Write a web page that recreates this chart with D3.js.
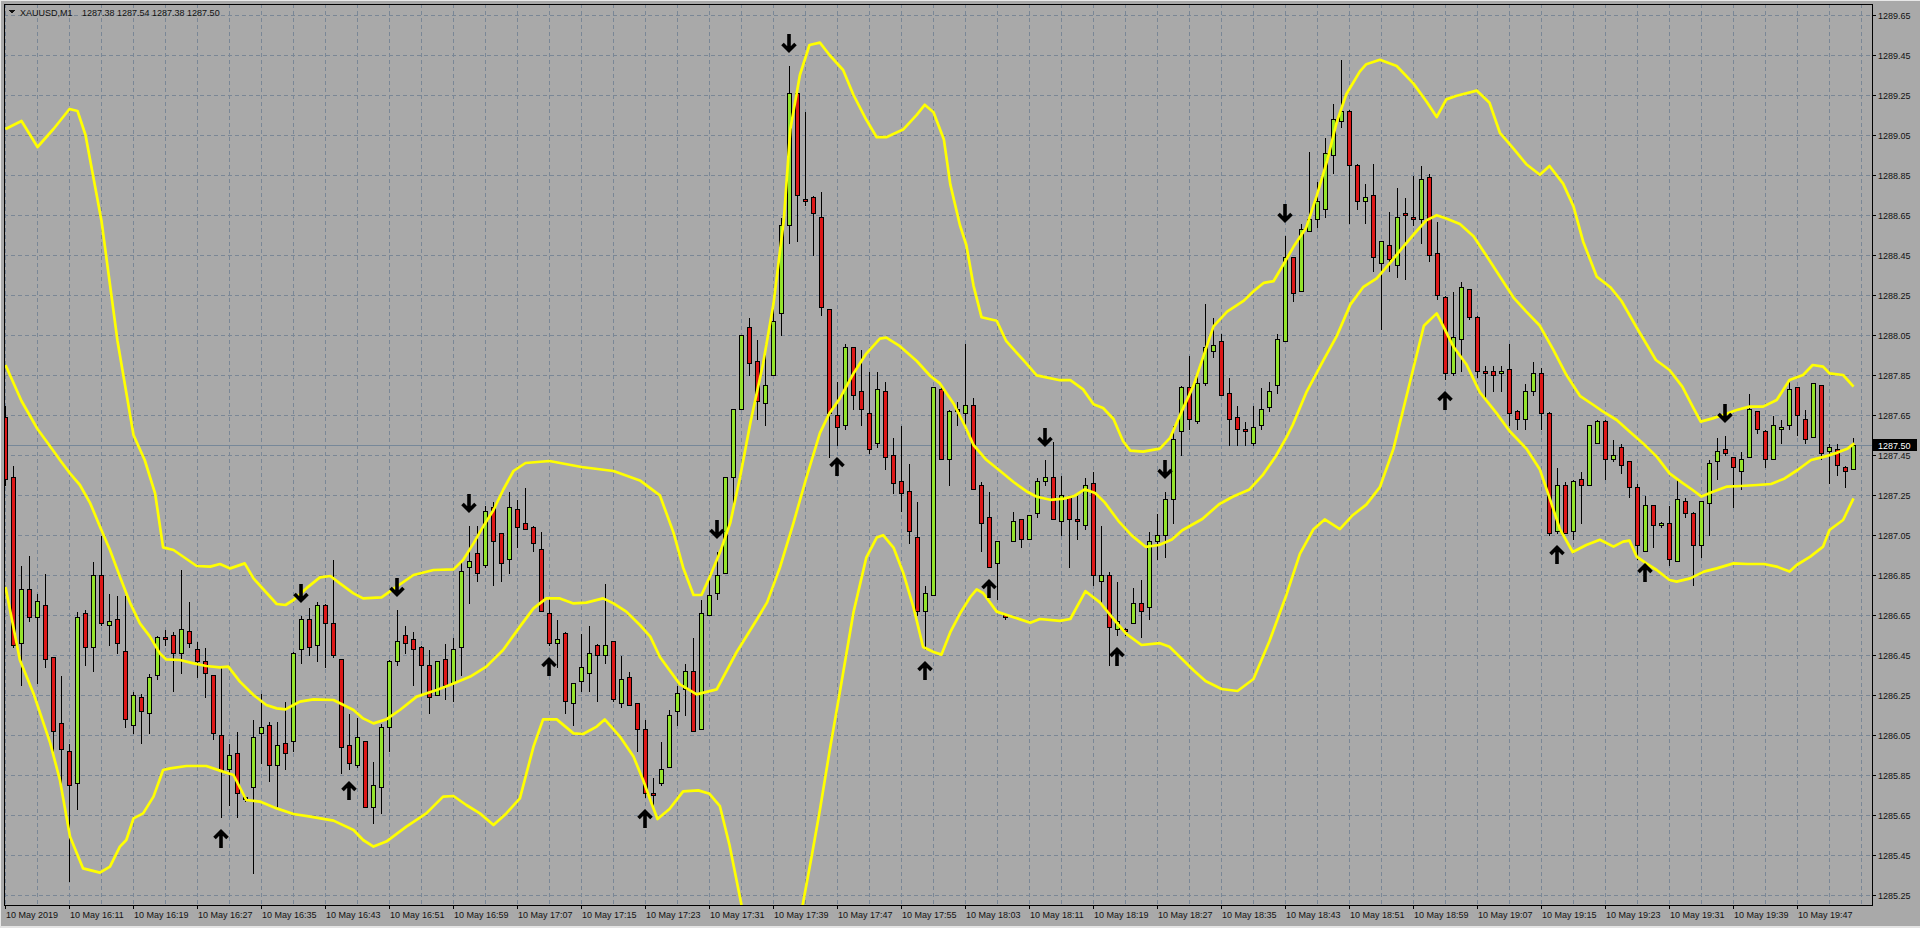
<!DOCTYPE html>
<html><head><meta charset="utf-8">
<script src="https://cdn.jsdelivr.net/npm/d3@7"></script>
<style>html,body{margin:0;padding:0;background:#a9a9a9;overflow:hidden}svg{display:block}</style>
</head><body>
<script>
// ---------------- data ----------------
const symbolTitle = "XAUUSD,M1";
const titleOHLC = "1287.38 1287.54 1287.38 1287.50";
const bidPrice = 1287.50;

const opens = [
1287.64,1287.34,1286.51,1286.78,1286.64,1286.70,1286.44,1286.11,1285.97,1285.81,
1286.66,1286.49,1286.85,1286.60,1286.63,1286.47,1286.10,1286.24,1286.16,1286.35,
1286.54,1286.55,1286.46,1286.57,1286.48,1286.42,1286.35,1286.05,1285.88,1285.96,
1285.74,1285.79,1286.06,1286.10,1285.90,1286.01,1286.02,1286.48,1286.63,1286.50,
1286.70,1286.61,1286.43,1286.00,1285.90,1286.02,1285.69,1285.79,1286.09,1286.42,
1286.55,1286.53,1286.49,1286.40,1286.25,1286.43,1286.31,1286.49,1286.89,1286.96,
1286.90,1287.19,1287.06,1286.93,1287.18,1287.11,1287.09,1286.98,1286.66,1286.51,
1286.56,1286.21,1286.32,1286.36,1286.50,1286.45,1286.52,1286.21,1286.34,1286.21,
1286.08,1285.76,1285.81,1285.89,1286.17,1286.28,1286.37,1286.08,1286.65,1286.76,
1286.86,1287.34,1287.68,1288.09,1287.92,1287.71,1287.85,1288.16,1288.60,1289.26,
1288.73,1288.74,1288.64,1288.18,1287.65,1287.60,1287.99,1287.77,1287.66,1287.51,
1287.77,1287.45,1287.32,1287.27,1287.04,1286.67,1286.75,1287.78,1287.43,1287.68,
1287.66,1287.70,1287.30,1287.14,1286.91,1286.65,1287.02,1287.13,1287.03,1287.16,
1287.32,1287.34,1287.12,1287.24,1287.13,1287.10,1287.31,1286.82,1286.85,1286.58,
1286.58,1286.61,1286.71,1286.69,1287.02,1287.05,1287.23,1287.57,1287.79,1287.62,
1287.81,1287.97,1288.02,1287.76,1287.64,1287.58,1287.51,1287.60,1287.69,1287.80,
1288.02,1288.44,1288.27,1288.57,1288.63,1288.68,1288.95,1289.12,1289.17,1288.90,
1288.72,1288.75,1288.41,1288.50,1288.40,1288.66,1288.64,1288.63,1288.84,1288.46,
1288.24,1287.86,1288.03,1288.28,1288.14,1287.87,1287.87,1287.86,1287.88,1287.67,
1287.63,1287.77,1287.86,1287.66,1287.07,1287.30,1287.07,1287.33,1287.30,1287.51,
1287.62,1287.43,1287.49,1287.42,1287.29,1286.97,1287.20,1287.10,1287.11,1286.92,
1287.22,1287.16,1287.00,1287.21,1287.42,1287.48,1287.44,1287.37,1287.44,1287.67,
1287.57,1287.43,1287.58,1287.60,1287.79,1287.63,1287.54,1287.80,1287.47,1287.48,
1287.39,1287.38];

const highs = [
1287.70,1287.40,1286.90,1286.95,1286.76,1286.86,1286.44,1286.35,1286.01,1286.67,
1286.68,1286.92,1287.05,1286.76,1286.75,1286.75,1286.27,1286.26,1286.36,1286.55,
1286.58,1286.57,1286.88,1286.72,1286.52,1286.49,1286.35,1286.39,1286.01,1286.07,
1285.75,1286.13,1286.26,1286.12,1286.12,1286.22,1286.47,1286.65,1286.69,1286.72,
1286.71,1286.93,1286.43,1286.16,1286.14,1286.02,1285.92,1286.11,1286.43,1286.68,
1286.60,1286.57,1286.50,1286.48,1286.42,1286.51,1286.54,1286.92,1287.10,1287.10,
1287.20,1287.22,1287.06,1287.27,1287.23,1287.29,1287.10,1287.07,1286.74,1286.63,
1286.57,1286.31,1286.56,1286.60,1286.51,1286.81,1286.52,1286.45,1286.37,1286.21,
1286.13,1285.84,1286.02,1286.18,1286.30,1286.41,1286.54,1286.73,1286.86,1286.97,
1287.34,1287.68,1288.05,1288.14,1288.03,1288.01,1288.21,1288.64,1289.40,1289.28,
1289.17,1288.75,1288.77,1288.18,1287.82,1288.01,1287.99,1287.98,1287.87,1287.87,
1287.82,1287.54,1287.60,1287.41,1287.22,1286.80,1287.79,1287.80,1287.68,1287.72,
1288.01,1287.74,1287.32,1287.27,1287.02,1286.66,1287.17,1287.13,1287.15,1287.34,
1287.43,1287.52,1287.35,1287.25,1287.25,1287.34,1287.37,1287.10,1286.87,1286.82,
1286.59,1286.79,1286.83,1287.07,1287.16,1287.27,1287.60,1287.80,1287.95,1287.87,
1288.21,1288.14,1288.06,1287.84,1287.70,1287.62,1287.70,1287.79,1287.82,1288.06,
1288.55,1288.44,1288.61,1288.97,1288.82,1289.04,1289.21,1289.43,1289.18,1288.91,
1288.81,1288.91,1288.52,1288.67,1288.79,1288.74,1288.85,1288.90,1288.86,1288.62,
1288.25,1288.27,1288.32,1288.28,1288.15,1287.90,1287.90,1287.90,1288.01,1287.68,
1287.81,1287.92,1287.89,1287.67,1287.39,1287.32,1287.33,1287.37,1287.60,1287.63,
1287.63,1287.53,1287.51,1287.42,1287.31,1287.25,1287.20,1287.12,1287.20,1287.33,
1287.24,1287.17,1287.22,1287.43,1287.54,1287.55,1287.44,1287.47,1287.76,1287.67,
1287.58,1287.65,1287.63,1287.83,1287.79,1287.68,1287.81,1287.80,1287.51,1287.51,
1287.40,1287.54];

const lows = [
1287.30,1286.49,1286.30,1286.62,1286.31,1286.39,1285.94,1285.78,1285.32,1285.68,
1286.40,1286.37,1286.60,1286.50,1286.46,1286.09,1286.06,1286.01,1286.06,1286.33,
1286.50,1286.27,1286.36,1286.49,1286.34,1286.24,1286.03,1285.64,1285.70,1285.64,
1285.72,1285.36,1285.91,1285.82,1285.69,1285.88,1285.97,1286.41,1286.45,1286.42,
1286.39,1286.44,1285.86,1285.88,1285.89,1285.69,1285.61,1285.66,1285.97,1286.40,
1286.46,1286.30,1286.26,1286.16,1286.25,1286.23,1286.22,1286.35,1286.71,1286.82,
1286.89,1286.80,1286.82,1286.86,1286.99,1287.08,1286.97,1286.67,1286.50,1286.39,
1286.16,1286.10,1286.27,1286.27,1286.22,1286.41,1286.22,1286.19,1286.20,1285.97,
1285.74,1285.70,1285.80,1285.89,1286.10,1286.15,1286.07,1286.08,1286.65,1286.73,
1286.86,1287.17,1287.68,1287.85,1287.63,1287.60,1287.85,1288.05,1288.51,1288.52,
1288.70,1288.45,1288.15,1287.44,1287.50,1287.58,1287.68,1287.60,1287.46,1287.49,
1287.38,1287.26,1287.17,1287.01,1286.65,1286.48,1286.75,1287.43,1287.30,1287.60,
1287.58,1287.28,1286.97,1286.89,1286.73,1286.63,1287.02,1286.99,1287.03,1287.14,
1287.30,1287.13,1287.05,1286.89,1287.03,1287.08,1286.80,1286.71,1286.40,1286.55,
1286.55,1286.61,1286.54,1286.63,1286.93,1286.94,1287.11,1287.45,1287.58,1287.61,
1287.80,1287.94,1287.75,1287.50,1287.50,1287.50,1287.50,1287.58,1287.67,1287.76,
1288.02,1288.22,1288.27,1288.57,1288.59,1288.64,1288.86,1289.09,1288.61,1288.68,
1288.61,1288.37,1288.08,1288.37,1288.34,1288.33,1288.60,1288.51,1288.42,1288.23,
1287.83,1287.85,1287.87,1288.13,1287.84,1287.74,1287.77,1287.77,1287.60,1287.58,
1287.58,1287.75,1287.58,1287.05,1287.06,1287.06,1287.03,1287.11,1287.30,1287.51,
1287.33,1287.42,1287.36,1287.24,1286.93,1286.97,1286.99,1287.09,1286.90,1286.92,
1287.14,1286.80,1286.94,1287.05,1287.33,1287.45,1287.19,1287.28,1287.44,1287.56,
1287.39,1287.43,1287.51,1287.58,1287.55,1287.51,1287.54,1287.43,1287.31,1287.35,
1287.29,1287.38];

const closes = [
1287.33,1286.50,1286.78,1286.64,1286.72,1286.43,1286.07,1285.98,1285.80,1286.64,
1286.49,1286.85,1286.61,1286.62,1286.51,1286.13,1286.25,1286.17,1286.34,1286.54,
1286.53,1286.46,1286.58,1286.51,1286.42,1286.36,1286.06,1285.87,1285.95,1285.76,
1285.73,1286.04,1286.09,1285.90,1286.00,1285.96,1286.46,1286.63,1286.49,1286.70,
1286.61,1286.45,1285.99,1285.91,1286.04,1285.69,1285.80,1286.09,1286.42,1286.52,
1286.51,1286.48,1286.40,1286.24,1286.42,1286.30,1286.48,1286.87,1286.92,1286.86,
1287.17,1287.02,1286.91,1287.19,1287.09,1287.08,1287.01,1286.67,1286.51,1286.53,
1286.22,1286.31,1286.39,1286.46,1286.45,1286.50,1286.23,1286.33,1286.20,1286.08,
1285.76,1285.75,1285.88,1286.15,1286.26,1286.37,1286.07,1286.66,1286.75,1286.85,
1287.34,1287.68,1288.05,1287.91,1287.72,1287.80,1288.12,1288.60,1289.26,1288.75,
1288.72,1288.66,1288.19,1287.66,1287.59,1287.99,1287.75,1287.68,1287.48,1287.78,
1287.44,1287.31,1287.26,1287.07,1286.67,1286.76,1287.79,1287.43,1287.67,1287.67,
1287.70,1287.28,1287.11,1286.89,1287.02,1286.64,1287.12,1287.03,1287.15,1287.32,
1287.34,1287.13,1287.25,1287.13,1287.12,1287.30,1286.85,1286.85,1286.59,1286.62,
1286.57,1286.71,1286.67,1287.02,1287.05,1287.23,1287.53,1287.79,1287.63,1287.81,
1287.99,1288.00,1287.75,1287.63,1287.58,1287.57,1287.59,1287.68,1287.77,1288.03,
1288.44,1288.26,1288.58,1288.63,1288.72,1288.96,1289.13,1289.17,1288.90,1288.72,
1288.74,1288.44,1288.52,1288.43,1288.64,1288.65,1288.63,1288.83,1288.45,1288.25,
1287.86,1288.04,1288.29,1288.14,1287.87,1287.86,1287.85,1287.87,1287.66,1287.63,
1287.77,1287.86,1287.66,1287.06,1287.30,1287.06,1287.32,1287.30,1287.60,1287.62,
1287.43,1287.45,1287.40,1287.29,1287.00,1287.20,1287.10,1287.11,1286.93,1287.23,
1287.16,1287.00,1287.22,1287.41,1287.47,1287.46,1287.39,1287.43,1287.68,1287.58,
1287.43,1287.60,1287.59,1287.78,1287.65,1287.53,1287.81,1287.46,1287.49,1287.40,
1287.37,1287.50];

// Bollinger band readings: [bar index, price]
const upperBand = [[0,1289.08],[2,1289.12],[4,1288.99],[6,1289.08],[8,1289.18],[9,1289.17],[10,1289.05],[12,1288.62],[14,1288.02],[16,1287.55],[17.4,1287.425],[18.7,1287.258],[19.7,1286.988],[21,1286.975],[23.9,1286.895],[25.6,1286.892],[26.8,1286.905],[28.1,1286.883],[29.9,1286.908],[31,1286.833],[33.9,1286.705],[35,1286.70],[36,1286.725],[37.6,1286.783],[39.3,1286.838],[40.6,1286.845],[41.8,1286.808],[43.5,1286.758],[44.7,1286.733],[47,1286.738],[48.9,1286.792],[51,1286.85],[53.5,1286.875],[56,1286.878],[57.2,1286.925],[58.5,1287.008],[59.7,1287.092],[61,1287.175],[62.2,1287.275],[63.5,1287.37],[65,1287.41],[68,1287.42],[72,1287.39],[76,1287.37],[79.3,1287.323],[81.8,1287.248],[83.5,1287.062],[84.7,1286.888],[86,1286.75],[87,1286.75],[88,1286.838],[89.3,1286.962],[90.6,1287.111],[91.8,1287.335],[93.1,1287.609],[94.7,1287.907],[96,1288.206],[97.3,1288.629],[98.1,1289.077],[99.3,1289.35],[100.5,1289.5],[101.8,1289.512],[103,1289.45],[104.7,1289.375],[106,1289.25],[107.6,1289.126],[108.9,1289.039],[110.1,1289.039],[112.2,1289.077],[113.9,1289.151],[114.9,1289.201],[116,1289.164],[117.3,1289.027],[118.1,1288.803],[119.3,1288.6],[120.1,1288.5],[121,1288.297],[122,1288.139],[123.9,1288.121],[125.1,1288.019],[127.6,1287.908],[128.9,1287.848],[131.8,1287.824],[133.1,1287.824],[134.7,1287.778],[136,1287.704],[137.2,1287.685],[138.5,1287.63],[139.7,1287.519],[140.6,1287.472],[142.2,1287.467],[144.3,1287.482],[145.6,1287.537],[146.8,1287.648],[148.5,1287.797],[151,1288.093],[152.7,1288.167],[154.8,1288.222],[156,1288.269],[157.3,1288.311],[158.5,1288.319],[159.7,1288.4],[161,1288.491],[162.6,1288.588],[163.9,1288.746],[165.2,1288.921],[166.4,1289.114],[167.6,1289.254],[169.3,1289.368],[170.1,1289.404],[171.8,1289.426],[173.9,1289.395],[176,1289.307],[177.6,1289.219],[178.9,1289.14],[180.1,1289.228],[181.4,1289.246],[183.9,1289.272],[185.5,1289.211],[186.8,1289.061],[188.5,1288.982],[190.1,1288.904],[191.8,1288.851],[193,1288.895],[194.7,1288.807],[196,1288.693],[197.2,1288.518],[198.9,1288.342],[200.6,1288.289],[202,1288.22],[204,1288.08],[206.3,1287.925],[208,1287.875],[209.6,1287.792],[210.9,1287.692],[211.9,1287.617],[213.4,1287.633],[214.7,1287.65],[216.4,1287.675],[218,1287.692],[219.7,1287.692],[221.4,1287.725],[223,1287.825],[224.7,1287.85],[225.9,1287.9],[227.2,1287.892],[228,1287.858],[229.7,1287.85],[231,1287.792]];

const middleBand = [[0,1287.90],[2,1287.72],[4,1287.58],[6,1287.47],[6.8,1287.425],[8.06,1287.358],[9.3,1287.3],[10.6,1287.208],[11.8,1287.092],[13.06,1286.975],[14.3,1286.842],[15.6,1286.708],[16.8,1286.608],[18.06,1286.542],[19.3,1286.458],[20.1,1286.428],[21.8,1286.425],[23.5,1286.408],[25.1,1286.395],[26.8,1286.388],[27.85,1286.392],[29.3,1286.317],[31,1286.25],[32.6,1286.2],[33.9,1286.183],[35,1286.178],[36,1286.2],[36.8,1286.217],[38.5,1286.228],[41,1286.225],[43.5,1286.175],[44.7,1286.133],[46,1286.108],[47.6,1286.128],[49.3,1286.175],[51.4,1286.242],[53.9,1286.275],[56,1286.308],[58.1,1286.342],[60.1,1286.392],[62.2,1286.475],[64.3,1286.592],[66,1286.683],[67.6,1286.733],[69.3,1286.733],[71,1286.708],[72.6,1286.712],[74.7,1286.733],[76,1286.708],[77.6,1286.667],[79.3,1286.6],[80.6,1286.542],[81.8,1286.44],[84.3,1286.303],[86.4,1286.253],[88.9,1286.278],[91.4,1286.465],[93.9,1286.626],[95.2,1286.713],[96.8,1286.887],[98.5,1287.111],[100.1,1287.335],[101.8,1287.559],[103,1287.659],[104.3,1287.733],[106,1287.858],[107.6,1287.957],[109.3,1288.032],[110.1,1288.037],[111.8,1287.994],[113.9,1287.92],[115.6,1287.845],[116.8,1287.808],[118.5,1287.708],[120,1287.59],[121,1287.5],[122.6,1287.426],[124.3,1287.371],[126,1287.315],[127.6,1287.269],[128.9,1287.241],[130.6,1287.226],[132.3,1287.232],[133.6,1287.245],[134.9,1287.278],[136.2,1287.26],[137.4,1287.213],[139.1,1287.121],[140.8,1287.047],[142.5,1286.991],[144.2,1287.0],[145.8,1287.028],[147.1,1287.074],[149.6,1287.13],[151.7,1287.204],[153.4,1287.241],[155.5,1287.278],[157.2,1287.352],[158.8,1287.445],[160.1,1287.537],[160.9,1287.6],[162.6,1287.763],[164.7,1287.921],[166.4,1288.044],[168.1,1288.202],[169.7,1288.289],[171.4,1288.333],[173.1,1288.412],[174.7,1288.491],[176.4,1288.57],[177.6,1288.623],[178.9,1288.649],[180.1,1288.632],[181.8,1288.605],[183.5,1288.544],[185.1,1288.447],[186.8,1288.342],[188.5,1288.237],[190.1,1288.167],[191.8,1288.096],[193.5,1287.974],[195.1,1287.851],[196.8,1287.746],[198.5,1287.7],[199.7,1287.667],[201.4,1287.625],[203,1287.567],[204.7,1287.508],[206.4,1287.442],[208,1287.358],[209.7,1287.308],[210.9,1287.275],[212,1287.242],[213.5,1287.267],[215.2,1287.292],[216.9,1287.295],[219,1287.3],[220.7,1287.305],[222.4,1287.333],[224,1287.375],[225.7,1287.425],[227.4,1287.442],[229,1287.462],[230.3,1287.483],[231.1,1287.508]];

const lowerBand = [[0,1286.79],[1.8,1286.425],[3.5,1286.258],[5.6,1286.008],[6.8,1285.825],[8.06,1285.542],[9.7,1285.383],[11.8,1285.362],[13.06,1285.392],[14.3,1285.492],[15.1,1285.525],[16,1285.633],[17.2,1285.658],[18.5,1285.742],[19.7,1285.875],[20.6,1285.883],[22.6,1285.895],[25.1,1285.895],[26.8,1285.872],[28.5,1285.85],[30.1,1285.725],[31.8,1285.717],[33.9,1285.683],[36,1285.655],[38.1,1285.642],[41,1285.622],[43.5,1285.575],[44.7,1285.525],[46,1285.492],[47.6,1285.517],[50.1,1285.592],[52.6,1285.658],[54.7,1285.742],[56,1285.745],[57.6,1285.70],[59.3,1285.658],[61,1285.6],[62.6,1285.658],[64.3,1285.733],[66,1285.992],[67.2,1286.128],[68.9,1286.128],[71,1286.058],[72.2,1286.055],[73.9,1286.092],[74.9,1286.128],[76.8,1286.042],[78.5,1285.942],[79.7,1285.825],[80.6,1285.725],[81.5,1285.63],[83,1285.68],[84.7,1285.768],[86.6,1285.773],[88,1285.756],[89.3,1285.694],[90.5,1285.5],[92,1285.2],[94,1284.85],[96,1284.65],[98,1284.75],[99.6,1285.19],[100.8,1285.45],[101.8,1285.675],[103,1285.967],[104.3,1286.266],[106,1286.664],[107.6,1286.937],[108.9,1287.037],[109.7,1287.049],[111,1286.987],[112.2,1286.863],[113.5,1286.688],[114.7,1286.49],[116,1286.465],[117,1286.452],[118.1,1286.564],[119.3,1286.656],[120.6,1286.74],[121.4,1286.778],[122.2,1286.76],[123.9,1286.667],[126,1286.639],[128.1,1286.611],[129.3,1286.63],[131.8,1286.621],[133.1,1286.63],[135,1286.769],[136.8,1286.713],[138.5,1286.63],[140.1,1286.556],[142,1286.5],[144.3,1286.509],[145.5,1286.491],[148.5,1286.374],[150,1286.32],[152,1286.28],[154,1286.27],[156,1286.33],[158,1286.52],[160.1,1286.749],[161.8,1286.956],[163.5,1287.079],[164.9,1287.128],[166.8,1287.079],[168.4,1287.149],[170.1,1287.202],[171.8,1287.289],[173.5,1287.482],[174.7,1287.675],[176,1287.886],[177.3,1288.096],[178.9,1288.158],[179.7,1288.096],[181,1287.991],[182.6,1287.904],[184.3,1287.763],[186.4,1287.658],[188,1287.57],[190.1,1287.482],[191.8,1287.377],[193,1287.237],[194.3,1287.079],[195.9,1286.965],[197.6,1287.0],[199.3,1287.026],[201,1286.992],[202.2,1287.017],[203,1287.022],[203.9,1286.942],[205.1,1286.908],[206.4,1286.875],[208,1286.825],[208.9,1286.817],[210.6,1286.833],[212.3,1286.867],[213.9,1286.883],[216,1286.908],[217.7,1286.905],[219.8,1286.905],[221.4,1286.892],[223,1286.867],[223.9,1286.9],[225.6,1286.942],[227.2,1286.992],[228,1287.075],[229.7,1287.125],[230.5,1287.192],[231,1287.233]];

const upArrowBars = [27,43,68,80,104,115,123,139,180,194,205];
const downArrowBars = [37,49,58,89,98,130,145,160,215];

const priceTicks = [1289.65,1289.45,1289.25,1289.05,1288.85,1288.65,1288.45,1288.25,1288.05,1287.85,1287.65,1287.45,1287.25,1287.05,1286.85,1286.65,1286.45,1286.25,1286.05,1285.85,1285.65,1285.45,1285.25];
const timeTickBars = [0,8,16,24,32,40,48,56,64,72,80,88,96,104,112,120,128,136,144,152,160,168,176,184,192,200,208,216,224];
const timeTickLabels = ["10 May 2019","10 May 16:11","10 May 16:19","10 May 16:27","10 May 16:35","10 May 16:43","10 May 16:51","10 May 16:59","10 May 17:07","10 May 17:15","10 May 17:23","10 May 17:31","10 May 17:39","10 May 17:47","10 May 17:55","10 May 18:03","10 May 18:11","10 May 18:19","10 May 18:27","10 May 18:35","10 May 18:43","10 May 18:51","10 May 18:59","10 May 19:07","10 May 19:15","10 May 19:23","10 May 19:31","10 May 19:39","10 May 19:47"];

// ---------------- layout ----------------
const W = 1920, H = 928;
const P = {left: 4, top: 4, right: 1872, bottom: 905};
const FONT = "'Liberation Sans', Arial, sans-serif";
const BG = "#a9a9a9", GRID = "#7a8796";
const BULL = "#94e32c", BEAR = "#dc1818", BAND = "#ffff00";

const x = d3.scaleLinear().domain([0, 231]).range([5.5, 1853.5]);
const y = d3.scaleLinear().domain([1285.25, 1289.65]).range([895, 15]);
const sy = v => Math.round(y(v)) + 0.5;

const svg = d3.select("body").append("svg").attr("width", W).attr("height", H)
  .attr("shape-rendering", "crispEdges");

svg.append("rect").attr("width", W).attr("height", H).attr("fill", BG);
svg.append("line").attr("x1",0).attr("x2",W).attr("y1",0.5).attr("y2",0.5).attr("stroke","#e8e8e8");
svg.append("line").attr("x1",0.5).attr("x2",0.5).attr("y1",0).attr("y2",H).attr("stroke","#e8e8e8");
svg.append("rect").attr("x",0).attr("y",926).attr("width",W).attr("height",2).attr("fill","#e4e4e4");

svg.append("defs").append("clipPath").attr("id","plotclip").append("rect")
  .attr("x", P.left).attr("y", P.top).attr("width", P.right - P.left).attr("height", P.bottom - P.top);

// grid
const gridG = svg.append("g").attr("stroke", GRID).attr("stroke-dasharray", "4,3").attr("stroke-width", 1);
gridG.selectAll("line.h").data(priceTicks).join("line").attr("class","h")
  .attr("x1", P.left).attr("x2", P.right).attr("y1", d => sy(d)).attr("y2", d => sy(d));
const vGrid = d3.range(0, 233, 4);
gridG.selectAll("line.v").data(vGrid).join("line").attr("class","v")
  .attr("x1", d => x(d)).attr("x2", d => x(d)).attr("y1", P.top).attr("y2", P.bottom);

// bid line
svg.append("line").attr("x1", P.left).attr("x2", P.right).attr("y1", sy(bidPrice)).attr("y2", sy(bidPrice))
  .attr("stroke", "#778899").attr("stroke-width", 1);

// candles
const bars = opens.map((o, i) => ({i, o, h: highs[i], l: lows[i], c: closes[i]}));
const cg = svg.append("g").attr("clip-path", "url(#plotclip)");
cg.selectAll("line.wick").data(bars).join("line").attr("class","wick")
  .attr("x1", d => x(d.i)).attr("x2", d => x(d.i))
  .attr("y1", d => sy(d.h)).attr("y2", d => sy(d.l) + 0.5)
  .attr("stroke", "#000").attr("stroke-width", 1);
cg.selectAll("path.body").data(bars).join("path").attr("class","body")
  .attr("d", d => {
    const t = sy(Math.max(d.o, d.c)), b = sy(Math.min(d.o, d.c));
    const x0 = x(d.i) - 2, x1 = x(d.i) + 2;
    return `M${x0},${t}H${x1}V${b}H${x0}Z`;
  })
  .attr("fill", d => d.c >= d.o ? BULL : BEAR)
  .attr("stroke", "#000").attr("stroke-width", 1);

// bands
const bandLine = d3.line().x(d => x(d[0])).y(d => y(d[1]));
const bg = svg.append("g").attr("clip-path", "url(#plotclip)").attr("shape-rendering", "auto");
[upperBand, middleBand, lowerBand].forEach(b => {
  bg.append("path").attr("d", bandLine(b)).attr("fill", "none")
    .attr("stroke", BAND).attr("stroke-width", 2.7).attr("stroke-linejoin", "round");
});

// arrows
const ag = svg.append("g").attr("shape-rendering", "auto").attr("stroke", "#000").attr("fill", "none")
  .attr("stroke-width", 3.6).attr("stroke-linejoin", "miter");
ag.selectAll("path.dn").data(downArrowBars).join("path").attr("class","dn")
  .attr("d", i => {
    const cx = x(i) - 0.5, tip = y(highs[i]) - 13;
    return `M${cx},${tip-18}V${tip-2}M${cx-6.5},${tip-8}L${cx},${tip-1.5}L${cx+6.5},${tip-8}`;
  });
ag.selectAll("path.up").data(upArrowBars).join("path").attr("class","up")
  .attr("d", i => {
    const cx = x(i) - 0.5, tip = y(lows[i]) + 13;
    return `M${cx},${tip+18}V${tip+2}M${cx-6.5},${tip+8}L${cx},${tip+1.5}L${cx+6.5},${tip+8}`;
  });

// border
svg.append("rect").attr("x", P.left + 0.5).attr("y", P.top + 0.5)
  .attr("width", P.right - P.left).attr("height", P.bottom - P.top)
  .attr("fill", "none").attr("stroke", "#000");

// right axis
const ra = svg.append("g").attr("font-family", FONT).attr("font-size", 9).attr("fill", "#111");
ra.selectAll("line").data(priceTicks).join("line")
  .attr("x1", P.right).attr("x2", P.right + 4).attr("y1", d => sy(d)).attr("y2", d => sy(d)).attr("stroke", "#000");
ra.selectAll("text").data(priceTicks).join("text")
  .attr("x", P.right + 6).attr("y", d => y(d) + 3.5).text(d => d.toFixed(2));
svg.append("rect").attr("x", P.right + 1).attr("y", Math.round(y(bidPrice)) - 6).attr("width", 44).attr("height", 12).attr("fill", "#000");
svg.append("text").attr("x", P.right + 6).attr("y", y(bidPrice) + 3.5).attr("font-family", FONT).attr("font-size", 9)
  .attr("fill", "#fff").text(bidPrice.toFixed(2));

// bottom axis
const ba = svg.append("g").attr("font-family", FONT).attr("font-size", 9).attr("fill", "#111");
ba.selectAll("line").data(timeTickBars).join("line")
  .attr("x1", d => x(d)).attr("x2", d => x(d)).attr("y1", P.bottom).attr("y2", P.bottom + 4).attr("stroke", "#000");
ba.selectAll("text").data(timeTickBars).join("text")
  .attr("x", d => x(d) + 0.5).attr("y", 918).text((d, k) => timeTickLabels[k]);

// header
svg.append("path").attr("d", "M9,10L15,10L12,14Z").attr("fill", "#111");
svg.append("text").attr("x", 20).attr("y", 16).attr("font-family", FONT).attr("font-size", 9).attr("fill", "#111").text(symbolTitle);
svg.append("text").attr("x", 82).attr("y", 16).attr("font-family", FONT).attr("font-size", 9).attr("fill", "#111").text(titleOHLC);
</script>
</body></html>
